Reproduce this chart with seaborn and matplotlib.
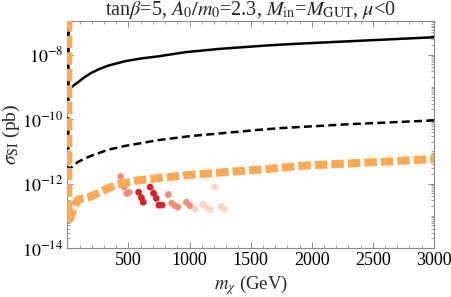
import numpy as np
import pandas as pd
import matplotlib
matplotlib.use("Agg")
import matplotlib.pyplot as plt
import matplotlib.ticker as mticker
import seaborn as sns

# ---- data ----
m_solid = [8, 8, 20, 50, 86, 140, 194, 260, 335, 476, 600, 749, 972, 1250, 1577, 1743, 2000, 2500, 3000]
logs_solid = [-6.9, -9.06, -9.06, -8.96, -8.86, -8.70, -8.57, -8.45, -8.34, -8.20, -8.12, -8.05, -7.92, -7.82, -7.73, -7.69, -7.64, -7.55, -7.46]

m_dashed = [8, 8, 17, 50, 86, 140, 194, 335, 476, 749, 1000, 1577, 1743, 2300, 3000]
logs_dashed = [-6.9, -11.55, -11.55, -11.44, -11.33, -11.23, -11.14, -10.95, -10.83, -10.65, -10.53, -10.33, -10.28, -10.16, -10.04]

m_orange = [8, 8, 20, 60, 86, 170, 252, 330, 400, 580, 749, 1000, 1635, 1908, 2500, 3000]
logs_orange = [-6.9, -13.05, -13.1, -12.7, -12.5, -12.43, -12.3, -12.15, -12.04, -11.9, -11.83, -11.73, -11.55, -11.45, -11.34, -11.24]

pts_m = [437, 465, 486, 506, 583, 606, 622, 677, 705, 727, 749, 776,
         826, 854, 882, 904, 975, 1003, 1047, 1108, 1136, 1169, 1207, 1257, 1285]
pts_logs = [-11.78, -12.11, -12.31, -12.27, -12.27, -12.44, -12.58, -12.11, -12.30, -12.46, -12.67, -12.67,
            -12.34, -12.61, -12.69, -12.73, -12.58, -12.69, -12.79, -12.65, -12.73, -12.81, -12.11, -12.71, -12.79]
pts_group = ["mid", "mid", "mid", "mid", "deep", "deep", "deep", "deep", "deep", "deep", "deep", "deep",
             "mid", "mid", "mid", "mid", "mid", "mid", "pale", "pale", "pale", "pale", "pale", "pale", "pale"]

xticks = [500, 1000, 1500, 2000, 2500, 3000]
yticks = [1e-14, 1e-12, 1e-10, 1e-8]

# ---- style ----
sns.set_theme(style="ticks")
plt.rcParams["font.family"] = ["Liberation Serif", "DejaVu Serif"]
plt.rcParams["mathtext.fontset"] = "stix"

fig = plt.figure(figsize=(4.52, 2.97), dpi=100, facecolor="white")
ax = fig.add_axes([0.149, 0.165, 0.811, 0.764])
ax.set_facecolor("white")

df_s = pd.DataFrame({"m": m_solid, "sigma": 10.0 ** np.array(logs_solid)})
df_d = pd.DataFrame({"m": m_dashed, "sigma": 10.0 ** np.array(logs_dashed)})
df_o = pd.DataFrame({"m": m_orange, "sigma": 10.0 ** np.array(logs_orange)})
df_p = pd.DataFrame({"m": pts_m, "sigma": 10.0 ** np.array(pts_logs), "g": pts_group})

sns.lineplot(data=df_s, x="m", y="sigma", sort=False, estimator=None, color="black",
             linewidth=1.8, ax=ax, zorder=3)
sns.lineplot(data=df_d, x="m", y="sigma", sort=False, estimator=None, color="black",
             linewidth=1.8, ax=ax, zorder=3)
ax.lines[-1].set_dashes([3.2, 1.7])
ax.lines[-1].set_dash_capstyle("butt")
sns.scatterplot(data=df_p, x="m", y="sigma", hue="g",
                palette={"deep": "#d92326", "mid": "#f38d77", "pale": "#fcd6c6"},
                s=24, linewidth=0, legend=False, ax=ax, zorder=2)
sns.lineplot(data=df_o, x="m", y="sigma", sort=False, estimator=None, color="#fea954",
             linewidth=5.8, ax=ax, zorder=4)
ax.lines[-1].set_dashes([1.55, 0.5])
ax.lines[-1].set_dash_capstyle("butt")

ax.set_yscale("log")
ax.set_xlim(0, 3000)
ax.set_ylim(1e-14, 1.1e-7)

ax.xaxis.set_major_locator(mticker.FixedLocator(xticks))
ax.xaxis.set_minor_locator(mticker.MultipleLocator(100))
ax.set_xticklabels([str(t) for t in xticks])
ax.yaxis.set_major_locator(mticker.FixedLocator(yticks))
ax.set_yticklabels([r"$10^{-14}$", r"$10^{-12}$", r"$10^{-10}$", r"$10^{-8}$"])
ax.yaxis.set_minor_locator(mticker.LogLocator(base=10, subs=np.arange(1, 10), numticks=30))
ax.yaxis.set_minor_formatter(mticker.NullFormatter())

for sp in ax.spines.values():
    sp.set_color("#8c8c8c")
    sp.set_linewidth(0.8)
ax.tick_params(which="both", direction="in", top=True, right=True, color="#8c8c8c",
               labelsize=13, labelcolor="black", pad=3)
ax.tick_params(which="major", length=4, width=0.7)
ax.tick_params(which="minor", length=2.2, width=0.6)

ax.set_xlabel(r"$m_\chi$ (GeV)", fontsize=13.5, labelpad=3)
ax.set_ylabel(r"$\sigma_{\rm SI}$ (pb)", fontsize=14, labelpad=0)
ax.set_title(r"tan$\beta$=5, $A_0/m_0$=2.3, $M_{\rm in}$=$M_{\rm GUT}$, $\mu$<0",
             fontsize=14.5, pad=1)

fig.savefig("out.png", dpi=100, facecolor="white")
